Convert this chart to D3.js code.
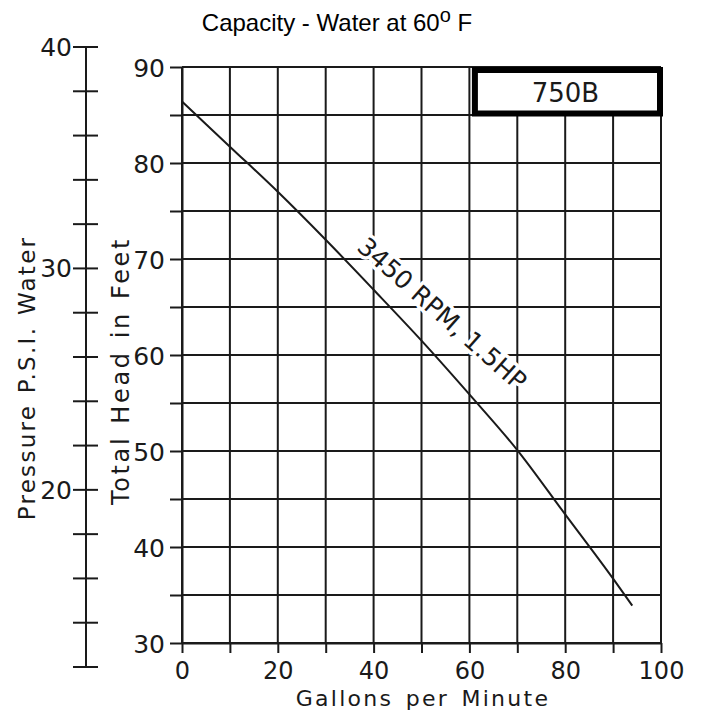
<!DOCTYPE html>
<html><head><meta charset="utf-8">
<script src="https://cdn.jsdelivr.net/npm/d3@7"></script>
<style>body{margin:0;background:#fff}</style>
</head><body>
<script>
// Data
const gpm  = [0, 10, 20, 30, 40, 50, 60, 70, 80, 90, 94];
const head = [86.4, 81.7, 77.0, 72.0, 66.8, 61.5, 55.9, 50.1, 43.4, 36.7, 33.9];
const xTicks = [0, 10, 20, 30, 40, 50, 60, 70, 80, 90, 100];
const headTicks = [30, 35, 40, 45, 50, 55, 60, 65, 70, 75, 80, 85, 90];
const psiTicks = [12, 14, 16, 18, 20, 22, 24, 26, 28, 30, 32, 34, 36, 38, 40];
const modelLabel = "750B";
const curveLabel = "3450 RPM, 1.5HP";

const W = 703, H = 719;
const svg = d3.select("body").append("svg").attr("width", W).attr("height", H);
const ink = "#1a1a1a";
const cad = "'DejaVu Sans', sans-serif";

const x = d3.scaleLinear([0, 100], [182, 661]);
const y = d3.scaleLinear([30, 90], [643, 67]);
const p = d3.scaleLinear([12, 40], [667, 47]);

// grid
const g = svg.append("g").attr("stroke", ink).attr("stroke-width", 2);
g.selectAll("line.v").data(xTicks).join("line")
  .attr("x1", d => x(d)).attr("x2", d => x(d)).attr("y1", y(30)).attr("y2", y(90));
g.selectAll("line.h").data(headTicks).join("line")
  .attr("y1", d => y(d)).attr("y2", d => y(d)).attr("x1", x(0)).attr("x2", x(100));

// head axis (left of grid)
const yAxis = d3.axisLeft(y).tickValues(headTicks).tickSizeInner(12).tickSizeOuter(0)
  .tickPadding(5).tickFormat(d => d % 10 === 0 ? d : "");
const ya = svg.append("g").attr("transform", `translate(${x(0)},0)`).call(yAxis);
ya.select(".domain").attr("stroke", ink).attr("stroke-width", 2);
ya.selectAll(".tick line").attr("stroke", ink).attr("stroke-width", 2);
ya.selectAll(".tick text").attr("font-family", cad).attr("font-size", 25).attr("fill", ink)
  .attr("dy", "0.36em");

// x axis
const xAxis = d3.axisBottom(x).tickValues(xTicks).tickSizeInner(10).tickSizeOuter(0)
  .tickPadding(9).tickFormat(d => d % 20 === 0 ? d : "");
const xa = svg.append("g").attr("transform", `translate(0,${y(30)})`).call(xAxis);
xa.select(".domain").attr("stroke", ink).attr("stroke-width", 2);
xa.selectAll(".tick line").attr("stroke", ink).attr("stroke-width", 2);
xa.selectAll(".tick text").attr("font-family", cad).attr("font-size", 24).attr("fill", ink);

// pressure axis
const pa = svg.append("g").attr("stroke", ink).attr("stroke-width", 2);
const pxLine = 86;
pa.append("line").attr("x1", pxLine).attr("x2", pxLine).attr("y1", p(12)).attr("y2", p(40));
pa.selectAll("line.t").data(psiTicks).join("line")
  .attr("x1", pxLine - 13).attr("x2", pxLine + 12).attr("y1", d => p(d)).attr("y2", d => p(d));
svg.append("g").selectAll("text").data(psiTicks.filter(d => d % 10 === 0)).join("text")
  .attr("x", pxLine - 14).attr("y", d => p(d)).attr("dy", "0.36em")
  .attr("text-anchor", "end").attr("font-family", cad).attr("font-size", 25).attr("fill", ink)
  .text(d => d);

// curve label (with white halo breaking the grid)
const lx = x(52.7) + 2, ly = y(63.3) - 3;
svg.append("text").attr("transform", `translate(${lx},${ly}) rotate(41.5)`)
  .attr("text-anchor", "middle").attr("font-family", cad).attr("font-size", 25)
  .attr("fill", ink).attr("stroke", "#fff").attr("stroke-width", 7).attr("paint-order", "stroke")
  .attr("stroke-linejoin", "round").text(curveLabel);

// curve
svg.append("path").datum(gpm.map((d, i) => [d, head[i]]))
  .attr("fill", "none").attr("stroke", ink).attr("stroke-width", 2)
  .attr("d", d3.line().x(d => x(d[0])).y(d => y(d[1])).curve(d3.curveMonotoneX));

// model box
const bx0 = x(60) + 5.5, bx1 = x(100) - 1, by0 = y(90) + 3, by1 = y(85) - 1.5;
svg.append("rect").attr("x", bx0).attr("y", by0).attr("width", bx1 - bx0).attr("height", by1 - by0)
  .attr("fill", "#fff").attr("stroke", "#000").attr("stroke-width", 6);
svg.append("text").attr("x", (bx0 + bx1) / 2 - 2).attr("y", (by0 + by1) / 2 + 1).attr("dy", "0.36em")
  .attr("text-anchor", "middle").attr("font-family", cad).attr("font-size", 26).attr("fill", ink)
  .text(modelLabel);

// axis titles
svg.append("text").attr("x", 423).attr("y", 706).attr("text-anchor", "middle")
  .attr("font-family", cad).attr("font-size", 22).attr("letter-spacing", 2.3).attr("word-spacing", 3)
  .attr("fill", ink).text("Gallons per Minute");
svg.append("text").attr("transform", `translate(129,371) rotate(-90)`).attr("text-anchor", "middle")
  .attr("font-family", cad).attr("font-size", 24).attr("letter-spacing", 2.6).attr("word-spacing", 2)
  .attr("fill", ink).text("Total Head in Feet");
svg.append("text").attr("transform", `translate(35,378) rotate(-90)`).attr("text-anchor", "middle")
  .attr("font-family", cad).attr("font-size", 23).attr("letter-spacing", 2.3).attr("word-spacing", 1)
  .attr("fill", ink).text("Pressure P.S.I. Water");

// title
const t = svg.append("text").attr("x", 337).attr("y", 31).attr("text-anchor", "middle")
  .attr("font-family", "'Liberation Sans', Arial, sans-serif").attr("font-size", 24).attr("fill", "#000");
t.append("tspan").text("Capacity - Water at 60");
t.append("tspan").attr("dy", -9).attr("font-size", 20).text("o");
t.append("tspan").attr("dy", 9).text(" F");
</script>
</body></html>
